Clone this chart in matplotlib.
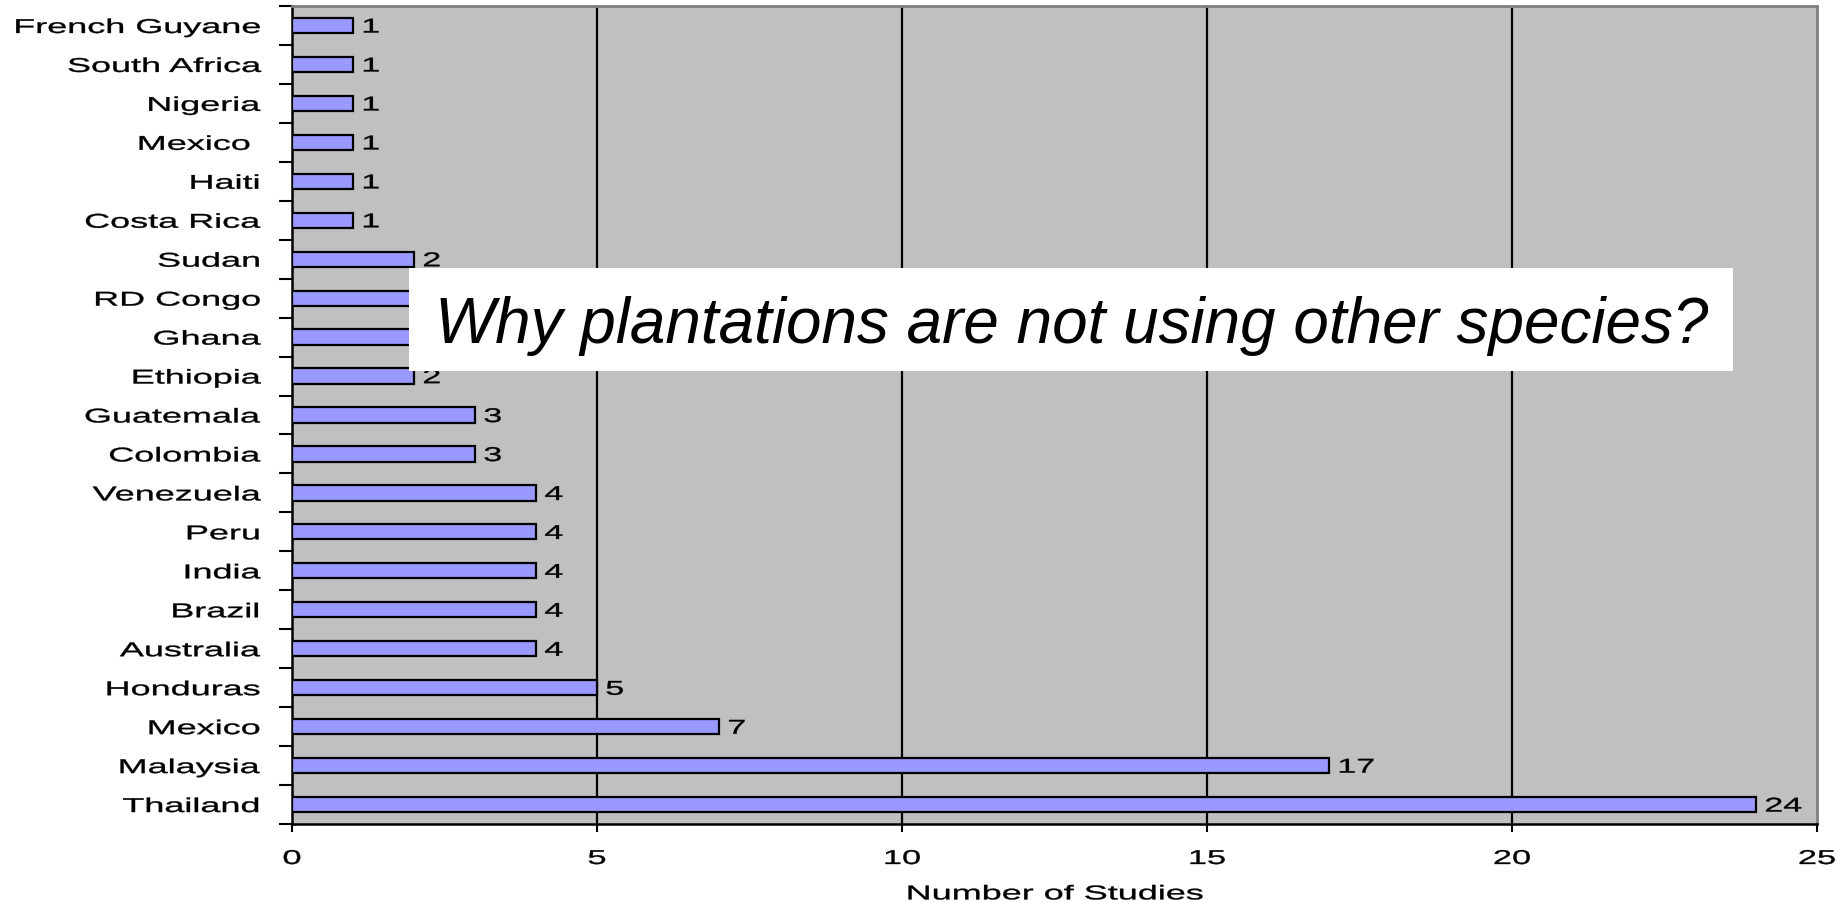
import matplotlib
matplotlib.use("Agg")
import matplotlib.pyplot as plt
from matplotlib import patheffects
from matplotlib.transforms import Affine2D, ScaledTranslation
from matplotlib.patches import Rectangle

# Studies per country, listed top to bottom as they appear on the chart
countries = [
    "French Guyane", "South Africa", "Nigeria", "Mexico ", "Haiti", "Costa Rica",
    "Sudan", "RD Congo", "Ghana", "Ethiopia", "Guatemala", "Colombia",
    "Venezuela", "Peru", "India", "Brazil", "Australia", "Honduras",
    "Mexico", "Malaysia", "Thailand",
]
studies = [1, 1, 1, 1, 1, 1, 2, 2, 2, 2, 3, 3, 4, 4, 4, 4, 4, 5, 7, 17, 24]
x_ticks = [0, 5, 10, 15, 20, 25]
x_label = "Number of Studies"
question = "Why plantations are not using other species?"

plt.rcParams["font.family"] = ["Liberation Sans", "DejaVu Sans"]


class HStretch(patheffects.AbstractPathEffect):
    """Widen a text horizontally about its alignment anchor, with a light outline."""

    def __init__(self, text, sx, weight=0.25):
        super().__init__()
        self._text = text
        self._sx = sx
        self._weight = weight

    def draw_path(self, renderer, gc, tpath, affine, rgbFace=None):
        if hasattr(renderer, "get_text_width_height_descent"):
            bb = self._text.get_window_extent(renderer)
        else:
            bb = self._text.get_window_extent()
        ha = self._text.get_horizontalalignment()
        if ha == "right":
            x0 = bb.x1
        elif ha == "center":
            x0 = 0.5 * (bb.x0 + bb.x1)
        else:
            x0 = bb.x0
        stretch = Affine2D().translate(-x0, 0).scale(self._sx, 1).translate(x0, 0)
        gc0 = renderer.new_gc()
        gc0.copy_properties(gc)
        gc0.set_linewidth(self._weight)
        if rgbFace is not None:
            gc0.set_foreground(rgbFace)
        renderer.draw_path(gc0, tpath, affine + stretch, rgbFace)
        gc0.restore()


W, H = 1849, 903
fig = plt.figure(figsize=(W / 100, H / 100), dpi=100)
ax = fig.add_axes([292 / W, 1 - 825 / H, (1817 - 292) / W, (825 - 7) / H])
ax.set_facecolor("#C0C0C0")

n = len(countries)
ypos = list(range(n))
ax.barh(ypos, studies, height=0.39, color="#9999FF", edgecolor="black",
        linewidth=1.6, zorder=3)

ax.set_xlim(x_ticks[0], x_ticks[-1])
ax.set_ylim(n - 0.5, -0.5)

# vertical gridlines
for xv in x_ticks[1:-1]:
    ax.axvline(xv, color="black", linewidth=1.6, zorder=2)

# spines
for side in ("left", "bottom"):
    ax.spines[side].set_color("black")
    ax.spines[side].set_linewidth(1.8)
for side in ("top", "right"):
    ax.spines[side].set_color("#808080")
    ax.spines[side].set_linewidth(2.0)

# y axis: labels at bar centres, tick marks at category boundaries
ax.set_yticks(ypos)
ax.set_yticklabels(countries, fontsize=14.4)
ax.set_yticks([i - 0.5 for i in range(n + 1)], minor=True)
ax.tick_params(axis="y", which="major", length=0, pad=22.5)
ax.tick_params(axis="y", which="minor", length=9.4, width=1.5, color="black",
               direction="out")

# x axis
ax.set_xticks(x_ticks)
ax.set_xticklabels([str(v) for v in x_ticks], fontsize=14.4)
ax.tick_params(axis="x", which="major", length=5.5, width=1.5, color="black",
               direction="out", pad=12.5)
ax.set_xlabel(x_label, fontsize=14.4, labelpad=11.8)

# value labels next to each bar
value_texts = []
offset = ScaledTranslation(6 / 72, -5.1 / 72, fig.dpi_scale_trans)
for y, v in zip(ypos, studies):
    t = ax.text(v, y, str(v), ha="left", va="baseline", fontsize=14.4,
                transform=ax.transData + offset, zorder=4)
    value_texts.append(t)

# highlighted question box
box = Rectangle((409 / W, 1 - 372 / H), (1733 - 409) / W, (372 - 269) / H,
                transform=fig.transFigure, facecolor="white", edgecolor="none",
                zorder=10)
fig.add_artist(box)
fig.text(1072 / W, 1 - 343 / H, question, ha="center", va="baseline",
         fontsize=45.9, style="italic", zorder=11)

fig.canvas.draw()
for lab in ax.get_yticklabels():
    lab.set_path_effects([HStretch(lab, 1.8)])
for lab in ax.get_xticklabels():
    lab.set_path_effects([HStretch(lab, 1.72)])
ax.xaxis.label.set_path_effects([HStretch(ax.xaxis.label, 1.8)])
for t in value_texts:
    t.set_path_effects([HStretch(t, 1.7)])

fig.savefig("out.png", dpi=100)
